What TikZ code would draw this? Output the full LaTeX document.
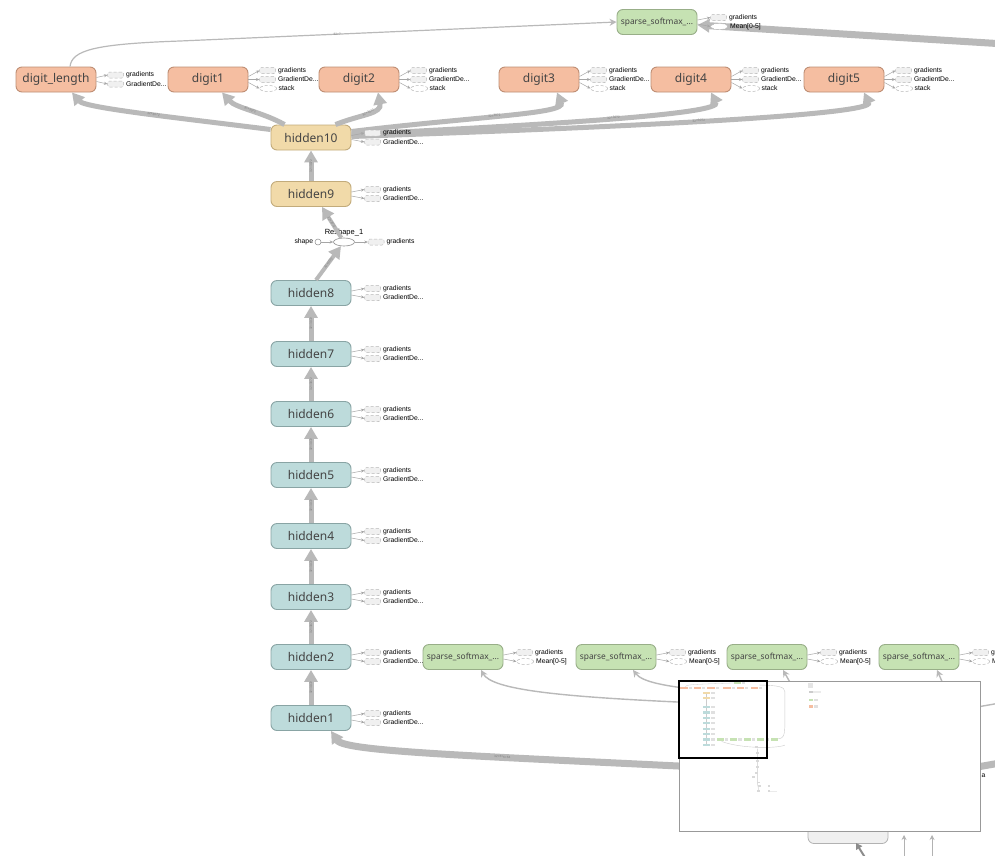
\documentclass[tikz,border=0pt]{standalone}
\usepackage{fontspec}
\setmainfont{Noto Sans}
\newfontfamily\tbsmall{Liberation Sans}
\usetikzlibrary{positioning,arrows.meta,shapes.geometric,calc}
\definecolor{tbOrange}{HTML}{F5BEA1}
\definecolor{tbOrangeLine}{HTML}{BE8E74}
\definecolor{tbYellow}{HTML}{F1DAA9}
\definecolor{tbYellowLine}{HTML}{C2AB7B}
\definecolor{tbTeal}{HTML}{BDDBDB}
\definecolor{tbTealLine}{HTML}{89A4A4}
\definecolor{tbGreen}{HTML}{C6E2B3}
\definecolor{tbGreenLine}{HTML}{98AE88}
\definecolor{tbEdge}{HTML}{B9B9B9}
\definecolor{tbText}{HTML}{444444}
\tikzset{
  tbop/.style={rectangle, rounded corners=6pt, line width=0.9pt, minimum width=80pt,
               minimum height=25pt, inner sep=0pt, font=\fontsize{12}{14}\selectfont, text=tbText},
  tbdigit/.style={tbop, fill=tbOrange, draw=tbOrangeLine},
  tbhid/.style={tbop, fill=tbTeal, draw=tbTealLine},
  tbtop/.style={tbop, fill=tbYellow, draw=tbYellowLine},
  tbloss/.style={tbop, fill=tbGreen, draw=tbGreenLine, font=\fontsize{8.4}{10}\selectfont},
  tbstub/.style={rectangle, rounded corners=2pt, draw=black!28, densely dashed, fill=black!6,
                 line width=0.5pt, minimum width=16pt, minimum height=6pt, inner sep=0pt},
  tbstubell/.style={ellipse, draw=black!28, densely dashed, fill=white, line width=0.5pt,
                    minimum width=17pt, minimum height=6pt, inner sep=0pt},
  tbstublab/.style={font=\tbsmall\fontsize{6.8}{7}\selectfont, inner sep=0.5pt},
  tbfeed/.style={draw=black!35, line width=0.5pt, -{Stealth[length=3.5pt,width=3pt]}},
  tbflow/.style={draw=tbEdge, line width=5pt, -{Triangle[length=12pt,width=13pt]}},
  tbthin/.style={draw=tbEdge, line width=1.4pt, -{Stealth[length=7pt,width=7pt]}},
  tbshape/.style={font=\tbsmall\fontsize{3.2}{3.5}\selectfont, text=black!50, inner sep=0pt},
}

\begin{document}
\begin{tikzpicture}[x=1pt, y=-1pt]
  \clip (0,0) rectangle (995,855);
  \fill[white] (0,0) rectangle (995,855);

  % ops
  \node[tbloss] (loss0) at (657,22) {sparse\_softmax\_...};
  \node[tbdigit] (digitlen) at (56,79.5) {digit\_length};
  \node[tbdigit] (digit1) at (208,79.5) {digit1};
  \node[tbdigit] (digit2) at (359,79.5) {digit2};
  \node[tbdigit] (digit3) at (539,79.5) {digit3};
  \node[tbdigit] (digit4) at (691,79.5) {digit4};
  \node[tbdigit] (digit5) at (844,79.5) {digit5};
  \node[tbtop] (hidden10) at (311,137.5) {hidden10};
  \node[tbtop] (hidden9) at (311,194) {hidden9};
  \foreach \i/\y in {8/293,7/354,6/414,5/475,4/536,3/597,2/657,1/718}
    \node[tbhid] (hidden\i) at (311,\y) {hidden\i};
  \node[tbloss] (loss1) at (463,657) {sparse\_softmax\_...};
  \node[tbloss] (loss2) at (616,657) {sparse\_softmax\_...};
  \node[tbloss] (loss3) at (767,657) {sparse\_softmax\_...};
  \node[tbloss] (loss4) at (919,657) {sparse\_softmax\_...};
  \node[ellipse, draw=black!45, fill=white, line width=0.6pt, minimum width=21pt,
        minimum height=8pt, inner sep=0pt] (reshape) at (344,242) {};
  \node[tbstublab, font=\tbsmall\fontsize{7.5}{8}\selectfont, above=1pt of reshape] {Reshape\_1};
  \node[circle, draw=black!45, fill=white, line width=0.5pt, minimum size=6pt,
        inner sep=0pt] (reshapein) at (318,242) {};
  \node[tbstublab, left=1pt of reshapein] {shape};

  % data flow
  \foreach \a/\b in {1/2,2/3,3/4,4/5,5/6,6/7,7/8}
    \draw[tbflow] (hidden\a) -- node[tbshape, rotate=90] {32×3072} (hidden\b);
  \draw[tbflow] (hidden9) -- node[tbshape, rotate=90] {32×3072} (hidden10);
  \draw[tbflow, line width=4pt] ([xshift=5pt]hidden8.north) -- node[tbshape, sloped] {32×3072} (reshape);
  \draw[tbflow, line width=4pt] (reshape) -- node[tbshape, sloped] {32×3072} ([xshift=11pt]hidden9.south);
  \draw[tbflow] ([yshift=8pt]hidden10.west) .. controls (180,118) and (85,108)
    .. node[tbshape, sloped, pos=0.45] {32×3072} ([xshift=16pt]digitlen.south);
  \draw[tbflow] ([xshift=14pt]hidden10.north west) .. controls (262,112) and (236,108)
    .. node[tbshape, sloped] {32×3072} ([xshift=14pt]digit1.south);
  \draw[tbflow] ([xshift=-16pt]hidden10.north east) .. controls (362,114) and (382,114)
    .. node[tbshape, sloped] {32×3072} ([xshift=19pt]digit2.south);
  \draw[tbflow] ([yshift=6pt]hidden10.east) .. controls (480,116) and (566,114)
    .. node[tbshape, sloped, pos=0.45] {32×3072} ([xshift=18pt]digit3.south);
  \draw[tbflow] ([yshift=3pt]hidden10.east) .. controls (560,124) and (722,114)
    .. node[tbshape, sloped, pos=0.5] {32×3072} ([xshift=20pt]digit4.south);
  \draw[tbflow] ([yshift=1pt]hidden10.east) .. controls (660,126) and (874,114)
    .. node[tbshape, sloped, pos=0.45] {32×3072} ([xshift=20pt]digit5.south);
  \draw[tbthin, line width=1.2pt] ([xshift=14pt]digitlen.north) .. controls (72,50) and (95,44)
    .. (180,41) -- node[tbshape, sloped, pos=0.36] {32×7} (loss0.west);

  \coordinate (lossfeed) at (1005,44);
  \draw[tbflow, line width=7pt] (lossfeed) -- ([yshift=-3pt]loss0.east);
  \coordinate (convfeed) at (760,770);
  \draw[tbflow, line width=7pt] (convfeed) .. controls (480,756) and (345,752)
    .. node[tbshape, sloped, pos=0.38] {32×6×6×64} ([xshift=20pt]hidden1.south);
  \coordinate (lab1) at (700,703);
  \coordinate (lab2) at (700,690);
  \coordinate (lab3) at (800,700);
  \coordinate (lab4) at (950,700);
  \draw[tbthin] (lab1) .. controls (560,697) and (492,690) .. ([xshift=18pt]loss1.south);
  \draw[tbthin] (lab2) .. controls (665,686) and (642,682) .. ([xshift=17pt]loss2.south);
  \draw[tbthin] (lab3) -- ([xshift=16pt]loss3.south);
  \draw[tbthin] (lab4) -- ([xshift=18pt]loss4.south);
  \coordinate (offa) at (960,710);
  \coordinate (offb) at (1000,703);
  \draw[tbEdge, line width=1.4pt] (offa) -- (offb);
  \coordinate (offc) at (960,770);
  \coordinate (offd) at (1000,763);
  \draw[tbEdge, line width=7pt] (offc) -- (offd);
  \node[tbstublab, anchor=west] (offlab) at (981,776) {a};

  % node cut off at the bottom
  \node[rectangle, rounded corners=6pt, fill=black!6, draw=black!30, line width=0.8pt,
        minimum width=80pt, minimum height=25pt] (lowbox) at (848,831) {};
  \coordinate (lowin) at (866,859);
  \coordinate (lowtip) at (856,843);
  \draw[draw=black!45, line width=2pt, -{Triangle[length=6pt,width=7pt]}] (lowin) -- (lowtip);
  \coordinate (lowa) at (904,860);
  \coordinate (lowat) at (904,835);
  \coordinate (lowb) at (932,860);
  \coordinate (lowbt) at (932,835);
  \draw[draw=black!30, line width=0.7pt, -{Stealth[length=5pt,width=5pt]}] (lowa) -- (lowat);
  \draw[draw=black!30, line width=0.7pt, -{Stealth[length=5pt,width=5pt]}] (lowb) -- (lowbt);

  % auxiliary outputs
  \foreach \n in {hidden1,hidden2,hidden3,hidden4,hidden5,hidden6,hidden7,hidden8,hidden9,hidden10} {
    \path (\n.east) ++(13,-4.5) node[tbstub, anchor=west] (\n-g) {} ++(0,9) node[tbstub, anchor=west] (\n-d) {};
    \draw[tbfeed] ([yshift=2pt]\n.east) -- (\n-g.west);
    \draw[tbfeed] ([yshift=-2pt]\n.east) -- (\n-d.west);
    \node[tbstublab, right=1.5pt of \n-g] {gradients};
    \node[tbstublab, right=1.5pt of \n-d] {GradientDe...};
  }
  \path (digitlen.east) ++(11,-4.5) node[tbstub, anchor=west] (digitlen-g) {} ++(0,9) node[tbstub, anchor=west] (digitlen-d) {};
  \draw[tbfeed] ([yshift=2pt]digitlen.east) -- (digitlen-g.west);
  \draw[tbfeed] ([yshift=-2pt]digitlen.east) -- (digitlen-d.west);
  \node[tbstublab, right=1.5pt of digitlen-g] {gradients};
  \node[tbstublab, right=1.5pt of digitlen-d] {GradientDe...};
  \foreach \n in {digit1,digit2,digit3,digit4,digit5} {
    \path (\n.east) ++(11,-9) node[tbstub, anchor=west] (\n-g) {}
      ++(0,9) node[tbstub, anchor=west] (\n-d) {} ++(0,9) node[tbstubell, anchor=west] (\n-s) {};
    \draw[tbfeed] ([yshift=3pt]\n.east) -- (\n-g.west);
    \draw[tbfeed] (\n.east) -- (\n-d.west);
    \draw[tbfeed] ([yshift=-3pt]\n.east) -- (\n-s.west);
    \node[tbstublab, right=1.5pt of \n-g] {gradients};
    \node[tbstublab, right=1.5pt of \n-d] {GradientDe...};
    \node[tbstublab, right=1pt of \n-s] {stack};
  }
  \foreach \n in {loss0,loss1,loss2,loss3,loss4} {
    \path (\n.east) ++(13,-4.5) node[tbstub, anchor=west] (\n-g) {} ++(0,9) node[tbstubell, anchor=west] (\n-m) {};
    \draw[tbfeed] ([yshift=2pt]\n.east) -- (\n-g.west);
    \draw[tbfeed] ([yshift=-2pt]\n.east) -- (\n-m.west);
    \node[tbstublab, right=1.5pt of \n-g] {gradients};
    \node[tbstublab, right=1.5pt of \n-m] {Mean[0-5]};
  }
  \draw[tbfeed] (reshapein) -- (reshape);
  \path (reshape.east) ++(13,0) node[tbstub, anchor=west] (reshape-g) {};
  \draw[tbfeed] (reshape) -- (reshape-g.west);
  \node[tbstublab, right=1.5pt of reshape-g] {gradients};

  % minimap
  \fill[white] (679,681) rectangle (980,831);
  \begin{scope}[shift={(679,681)}, scale=0.089]
    \draw[black!20, line width=0.3pt] (70,67) .. controls (80,40) and (100,40) .. (617,22);
    \draw[black!20, line width=0.4pt] (311,150) -- (311,705);
    \draw[black!20, line width=0.4pt] (1100,650) .. controls (1190,650) and (1190,600) .. (1190,400)
      -- (1190,120) .. controls (1190,60) and (1100,50) .. (900,45);
    \draw[black!20, line width=0.4pt] (480,680) .. controls (700,760) and (1100,760) .. (1190,720);
    \draw[black!20, line width=0.4pt] (880,760) -- (880,1150) -- (900,1240);
    \foreach \x in {56,208,359,539,691,844} {
      \fill[tbOrange] (\x-40,67) rectangle (\x+40,92);
      \fill[black!12] (\x+52,65) rectangle (\x+85,94);
    }
    \fill[tbGreen] (617,9) rectangle (697,35);
    \fill[black!12] (710,10) rectangle (745,32);
    \foreach \y in {125,182} {
      \fill[tbYellow] (271,\y) rectangle (351,\y+25);
      \fill[black!12] (363,\y) rectangle (400,\y+25);
    }
    \foreach \y in {280,341,401,462,523,584,644,705} {
      \fill[tbTeal] (271,\y) rectangle (351,\y+26);
      \fill[black!12] (363,\y) rectangle (400,\y+26);
    }
    \foreach \x in {424,576,728,880,1032} {
      \fill[tbGreen] (\x,645) rectangle (\x+79,669);
      \fill[black!12] (\x-60,645) rectangle (\x-25,669);
    }
    \foreach \x/\y in {870/745,880/810,885/900,885/970,870/1030,840/1080,895/1140,
                       905/1180,1010/1180,890/1240,1010/1240}
      \fill[black!15] (\x-15,\y-10) rectangle (\x+15,\y+10);
    \fill[black!8] (1020,1232) rectangle (1100,1250);
    \fill[black!10] (1450,20) rectangle (1500,80);
    \fill[black!20] (1460,110) rectangle (1510,140);
    \fill[black!8] (1510,110) rectangle (1600,140);
    \fill[tbGreen] (1460,200) rectangle (1500,230);
    \fill[black!12] (1520,200) rectangle (1560,230);
    \fill[tbOrange] (1460,270) rectangle (1500,300);
    \fill[black!12] (1520,270) rectangle (1560,300);
  \end{scope}
  \draw[black!40, line width=0.8pt] (679,681) rectangle (980,831);
  \draw[black, line width=1.3pt] (679,681) rectangle (767,758);
\end{tikzpicture}
\end{document}
